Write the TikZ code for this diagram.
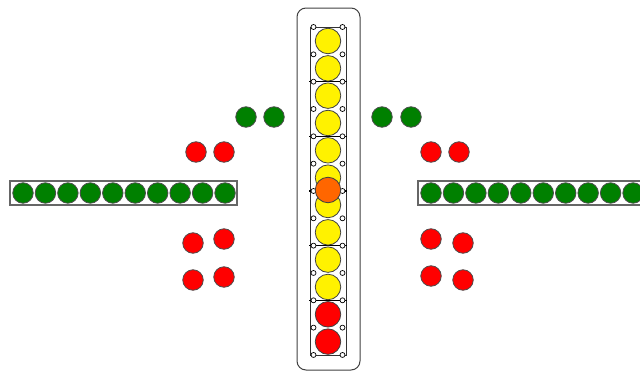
\documentclass[tikz,border=0pt]{standalone}
\usepackage{tikz}

\tikzset{
  ball/.style    = {circle, draw=black!70, line width=0.8pt, inner sep=0pt, minimum size=20.5pt},
  bigball/.style = {circle, draw=black!75, line width=0.8pt, inner sep=0pt, minimum size=25.5pt},
  pinhole/.style = {circle, draw=black, line width=0.7pt, fill=white, inner sep=0pt, minimum size=5pt},
  tray/.style    = {draw=black!60, line width=1.3pt},
}
\definecolor{ballgreen}{RGB}{0,128,0}
\definecolor{ballorange}{RGB}{255,102,0}

\begin{document}
\begin{tikzpicture}[x=1pt, y=-1pt]
\useasboundingbox (0,0) rectangle (640,372);
\clip (0,0) rectangle (640,372);

% column
\draw[black!75, line width=1pt, rounded corners=9pt] (297,8) rectangle (360,370);
\draw[black!80, line width=0.9pt] (310,27) rectangle (346,355);
\foreach \k in {1,...,5}
  \draw[black, line width=1.2pt] (309,27+54.67*\k) -- (347,27+54.67*\k);
\foreach \k in {0,...,12} {
  \node[pinhole] (PL\k) at (313.5,27+27.33*\k) {};
  \node[pinhole] (PR\k) at (342.5,27+27.33*\k) {};
}
\foreach \i in {1,...,10}
  \node[bigball, fill=yellow] (C\i) at (328,13.67+27.33*\i) {};
\foreach \i in {11,12}
  \node[bigball, fill=red] (C\i) at (328,13.67+27.33*\i) {};
\node[bigball, fill=ballorange] (O) at (328,190) {};

% trays
\draw[tray] (10,181) rectangle (237,205);
\draw[tray] (418,181) rectangle (650,205);
\foreach \i in {0,...,9} {
  \node[ball, fill=ballgreen] (L\i) at (23+22.45*\i,193) {};
  \node[ball, fill=ballgreen] (R\i) at (431+22.45*\i,193) {};
}

% loose balls
\node[ball, fill=ballgreen] (G1) at (246,117) {};
\node[ball, fill=ballgreen] (G2) at (274,117) {};
\node[ball, fill=ballgreen] (G3) at (382,117) {};
\node[ball, fill=ballgreen] (G4) at (411,117) {};

\node[ball, fill=red] (A1) at (196,152) {};
\node[ball, fill=red] (A2) at (224,152) {};
\node[ball, fill=red] (A3) at (431,152) {};
\node[ball, fill=red] (A4) at (459,152) {};

\node[ball, fill=red] (B1) at (193,243) {};
\node[ball, fill=red] (B2) at (224,239) {};
\node[ball, fill=red] (B3) at (193,280) {};
\node[ball, fill=red] (B4) at (224,277) {};

\node[ball, fill=red] (D1) at (431,239) {};
\node[ball, fill=red] (D2) at (463,243) {};
\node[ball, fill=red] (D3) at (431,276) {};
\node[ball, fill=red] (D4) at (463,280) {};
\end{tikzpicture}
\end{document}
